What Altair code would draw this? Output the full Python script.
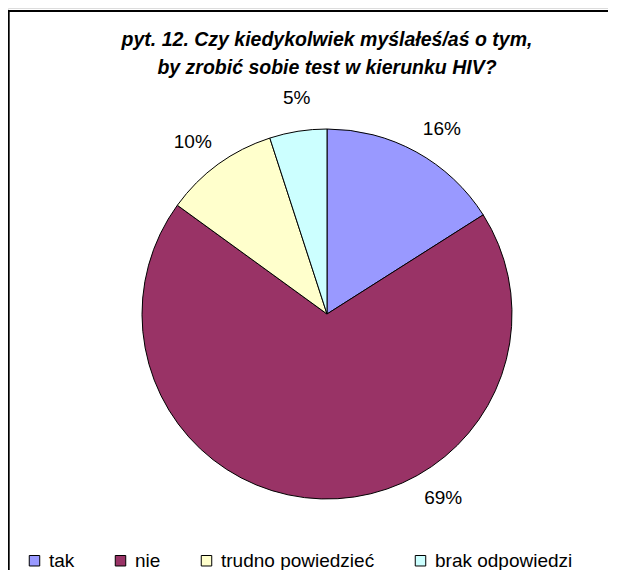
import math
import altair as alt
import pandas as pd

# ---- data ----
categories = ["tak", "nie", "trudno powiedzieć", "brak odpowiedzi"]
values = [16, 69, 10, 5]
colors = ["#9999FF", "#993366", "#FFFFCC", "#CCFFFF"]

title_lines = ["pyt. 12. Czy kiedykolwiek myślałeś/aś o tym,",
               "by zrobić sobie test w kierunku HIV?"]

# ---- layout (not data) ----
W, H = 600, 562
CX, CY, R = 319, 306, 185
LABEL_R = 218
label_shift_deg = [3, -34, -2, 1]   # Excel moved some labels

df = pd.DataFrame({
    "cat": categories,
    "value": values,
    "order": list(range(len(categories))),
    "shift": label_shift_deg,
})

base = alt.Chart(df)

pie = base.mark_arc(outerRadius=R, stroke="black", strokeWidth=1).encode(
    theta=alt.Theta("value:Q", stack=True),
    order=alt.Order("order:Q"),
    x=alt.value(CX),
    y=alt.value(CY),
    color=alt.Color(
        "cat:N",
        scale=alt.Scale(domain=categories, range=colors),
        sort=categories,
        legend=alt.Legend(
            title=None,
            orient="none",
            direction="horizontal",
            legendX=17,
            legendY=543,
            padding=0,
            symbolType="square",
            symbolSize=110,
            symbolStrokeColor="black",
            symbolStrokeWidth=1,
            symbolOpacity=1,
            labelFont="Liberation Sans",
            labelFontSize=19,
            labelColor="black",
            labelOffset=5,
            columnPadding=36,
        ),
    ),
)

labels = base.transform_window(
    cum="sum(value)", sort=[alt.SortField("order")]
).transform_joinaggregate(
    total="sum(value)"
).transform_calculate(
    ang="((datum.cum - datum.value/2) / datum.total * 360 + datum.shift) * PI / 180",
    lbl="datum.value + '%'",
).mark_text(
    font="Liberation Sans", fontSize=19, color="black", align="center", baseline="middle"
).encode(
    theta=alt.Theta("ang:Q", scale=None, stack=None),
    radius=alt.value(LABEL_R),
    x=alt.value(CX),
    y=alt.value(CY),
    text="lbl:N",
)

top_border = alt.Chart(df).mark_rule(color="black", strokeWidth=1.5).encode(
    x=alt.value(0), x2=alt.value(W + 10), y=alt.value(3)
)
left_border = alt.Chart(df).mark_rule(color="black", strokeWidth=1.5).encode(
    x=alt.value(0.5), y=alt.value(3), y2=alt.value(H)
)

chart = alt.layer(pie, labels, top_border, left_border).properties(
    width=W,
    height=H,
    padding=0,
    autosize=alt.AutoSizeParams(type="none"),
    title=alt.Title(
        text=title_lines,
        anchor="middle",
        font="Liberation Sans",
        fontSize=19.5,
        fontStyle="italic",
        fontWeight="bold",
        color="black",
        lineHeight=28,
        baseline="top",
        offset=0,
        dy=70,
        dx=19,
    ),
).configure_view(stroke=None).configure(background="white")

chart.save("out.html", embed_options={"renderer": "svg", "actions": False})
